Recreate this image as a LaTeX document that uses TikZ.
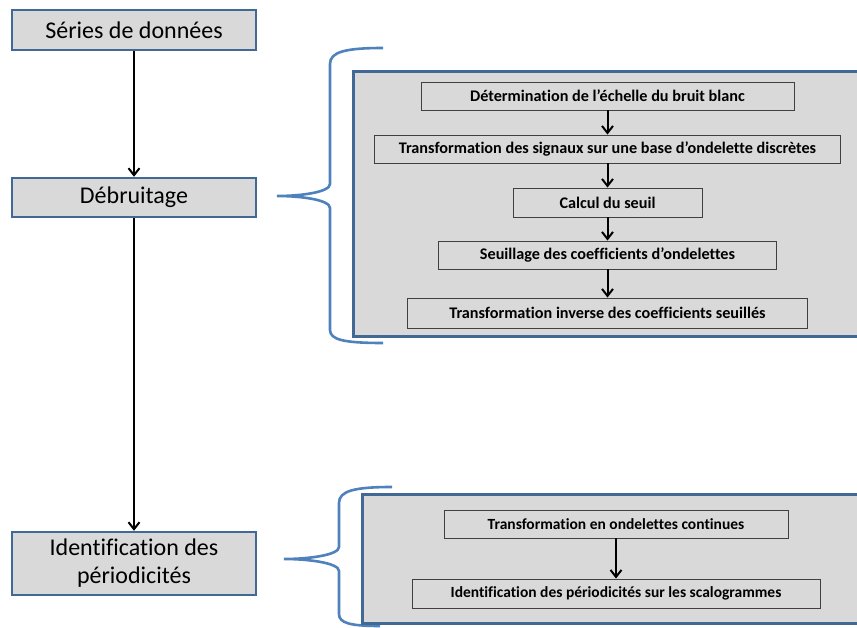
\documentclass[tikz,border=0pt]{standalone}
\usepackage{fontspec}
\setmainfont[Ligatures=NoCommon]{Carlito}
\usetikzlibrary{arrows.meta}

\definecolor{boxfill}{RGB}{217,217,217}
\definecolor{boxline}{RGB}{65,105,150}
\definecolor{bracecol}{RGB}{79,129,189}

\tikzset{
	mainbox/.style={draw=boxline, line width=2.4pt, fill=boxfill, inner sep=0pt, align=center, font=\fontsize{24}{28}\selectfont},
	panel/.style={draw=boxline, line width=3pt, fill=boxfill},
	stepbox/.style={draw=black!75, line width=0.9pt, fill=boxfill, inner sep=0pt, font=\fontsize{16.2}{19}\selectfont\bfseries},
	smallbox/.style={stepbox, font=\fontsize{15.5}{18}\selectfont\bfseries},
	arr/.style={line width=2pt, -{Straight Barb[length=7pt, width=11pt, line width=2pt]}},
	brace/.style={draw=bracecol, line width=2.6pt}
}

\begin{document}
\begin{tikzpicture}[x=1pt, y=-1pt]
	\clip (0,0) rectangle (857,628);
	\useasboundingbox (0,0) rectangle (857,628);
	\draw[brace] (383,48) .. controls (345,48) and (330,52) .. (330,64) -- (330,184)
	.. controls (330,192) and (302,196) .. (277,196) .. controls (302,196) and (330,200) .. (330,208)
	-- (330,330) .. controls (330,340) and (345,343) .. (383,343);
	\draw[brace] (392,487) .. controls (354,487) and (339,491) .. (339,503) -- (339,547)
	.. controls (339,555) and (309,559) .. (284,559) .. controls (309,559) and (339,563) .. (339,571)
	-- (339,614) .. controls (339,623) and (350,626) .. (380,626);
	\draw[panel] (353,72) rectangle (875,337);
	\draw[panel] (362,494) rectangle (875,623);

	\node[mainbox, minimum width=244pt, minimum height=40pt] (series) at (134,30) {Séries de données};
	\node[mainbox, minimum width=244pt, minimum height=39pt] (debruit) at (134,197.5) {Débruitage};
	\node[mainbox, minimum width=244pt, minimum height=63pt] (period) at (134,563.5) {Identification des\\périodicités};

	\node[stepbox, minimum width=373pt, minimum height=28pt] (echelle) at (607.5,96) {Détermination de l’échelle du bruit blanc};
	\node[stepbox, minimum width=466pt, minimum height=28pt] (discret) at (607.5,149) {Transformation des signaux sur une base d’ondelette discrètes};
	\node[stepbox, minimum width=189pt, minimum height=29pt] (seuil) at (607.5,202.5) {Calcul du seuil};
	\node[stepbox, minimum width=338pt, minimum height=28pt] (seuillage) at (607.5,255) {Seuillage des coefficients d’ondelettes};
	\node[stepbox, minimum width=400pt, minimum height=30pt] (inverse) at (607.5,313) {Transformation inverse des coefficients seuillés};

	\node[smallbox, minimum width=344pt, minimum height=28pt] (continue) at (616,524) {Transformation en ondelettes continues};
	\node[smallbox, minimum width=408pt, minimum height=29pt] (scalo) at (616,593.5) {Identification des périodicités sur les scalogrammes};

	\draw[arr] (series) -- (debruit);
	\draw[arr] (debruit) -- (period);
	\draw[arr] (echelle) -- (discret);
	\draw[arr] (discret) -- (seuil);
	\draw[arr] (seuil) -- (seuillage);
	\draw[arr] (seuillage) -- (inverse);
	\draw[arr] (continue) -- (scalo);
\end{tikzpicture}
\end{document}
